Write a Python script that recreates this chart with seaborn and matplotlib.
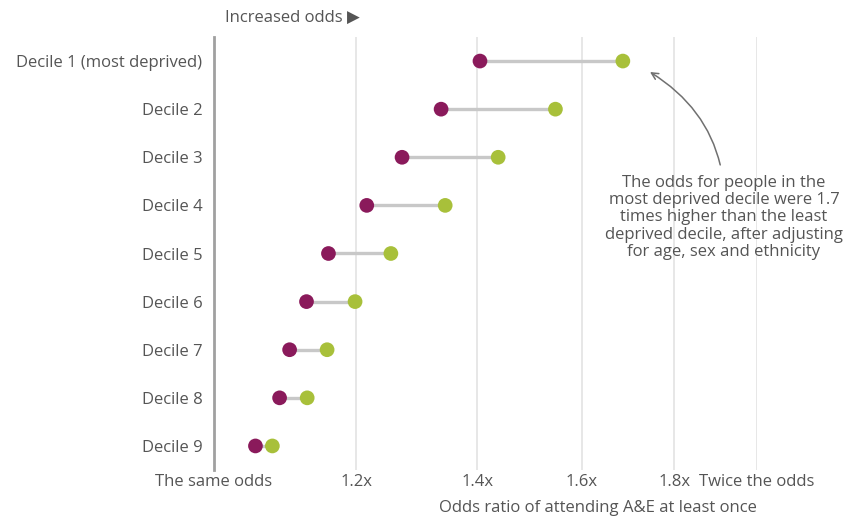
import numpy as np
import pandas as pd
import matplotlib
matplotlib.use('Agg')
import matplotlib.pyplot as plt
from matplotlib.ticker import FixedLocator, NullLocator
import seaborn as sns

# Dados (razão de chances, escala log)
deciles = ['Decile 1 (most deprived)', 'Decile 2', 'Decile 3', 'Decile 4', 'Decile 5',
           'Decile 6', 'Decile 7', 'Decile 8', 'Decile 9']
unadjusted = [1.405, 1.337, 1.272, 1.216, 1.158, 1.126, 1.102, 1.088, 1.055]
adjusted = [1.686, 1.547, 1.438, 1.344, 1.254, 1.198, 1.156, 1.127, 1.078]

tick_values = [1.0, 1.2, 1.4, 1.6, 1.8, 2.0]
tick_labels = ['The same odds', '1.2x', '1.4x', '1.6x', '1.8x', 'Twice the odds']

magenta = '#8A1A5B'
green = '#A8C03A'
text_grey = '#555555'

df = pd.DataFrame({'Decile': deciles * 2,
                   'Odds': unadjusted + adjusted,
                   'Model': ['Unadjusted'] * len(deciles) + ['Adjusted'] * len(deciles)})

sns.set_style('white')
plt.rcParams['font.family'] = ['Open Sans', 'DejaVu Sans']
fs = 12

fig = plt.figure(figsize=(8.43, 5.19), dpi=100)
ax = fig.add_axes([213.5 / 843, 1 - 470 / 519, (756.7 - 213.5) / 843, (470 - 37) / 519])

# linhas cinzas entre os pontos
ax.hlines(y=deciles, xmin=unadjusted, xmax=adjusted, color='#C8C8C8', lw=2.4, zorder=1)

sns.scatterplot(data=df, x='Odds', y='Decile', hue='Model',
                palette={'Unadjusted': magenta, 'Adjusted': green},
                s=112, edgecolor='none', legend=False, ax=ax, zorder=3)

ax.set_xscale('log')
ax.set_xlim(1.0, 2.0)
ax.set_ylim(len(deciles) - 0.5, -0.5)
ax.xaxis.set_major_locator(FixedLocator(tick_values))
ax.xaxis.set_minor_locator(NullLocator())
ax.set_xticklabels(tick_labels)

ax.grid(axis='x', color='#E3E3E3', lw=1.2)
ax.grid(axis='y', visible=False)
ax.set_axisbelow(True)
for side in ['top', 'right', 'bottom']:
    ax.spines[side].set_visible(False)
ax.spines['left'].set_color('#A0A0A0')
ax.spines['left'].set_linewidth(2)

ax.tick_params(axis='both', length=0, labelsize=fs, labelcolor=text_grey)
ax.tick_params(axis='y', pad=8)
ax.tick_params(axis='x', pad=3)

ax.set_ylabel('')
ax.set_xlabel('Odds ratio of attending A&E at least once', loc='right',
              fontsize=fs, color=text_grey, labelpad=7)

fig.text(225 / 843, 1 - 18 / 519, 'Increased odds \u25B6', fontsize=fs, color=text_grey,
         ha='left', va='center')

ax.annotate('The odds for people in the\nmost deprived decile were 1.7\ntimes higher than the least\n'
            'deprived decile, after adjusting\nfor age, sex and ethnicity',
            xy=(650 / 843, 1 - 72 / 519), xycoords='figure fraction',
            xytext=(724 / 843, 1 - 175 / 519), textcoords='figure fraction',
            ha='center', va='top', fontsize=fs, color=text_grey, linespacing=1.1,
            annotation_clip=False,
            arrowprops=dict(arrowstyle='->', color='#707070', lw=1.1,
                            connectionstyle='arc3,rad=0.3', shrinkA=5, shrinkB=0))

plt.savefig('out.png', dpi=100)
